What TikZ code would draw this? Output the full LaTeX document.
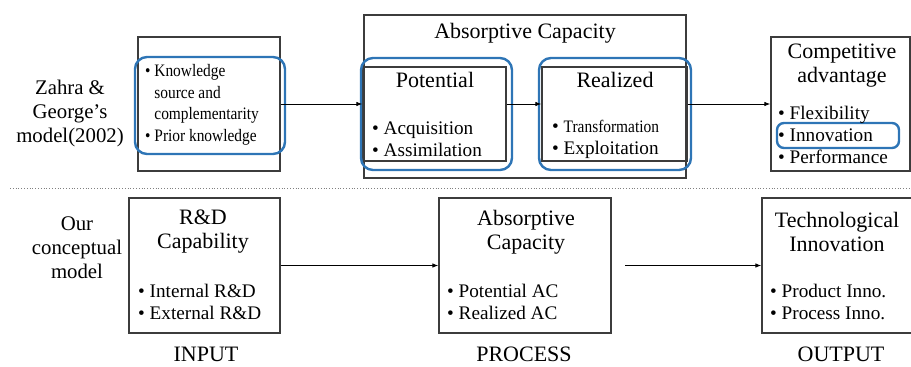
\documentclass[tikz,border=0pt]{standalone}
\usepackage{fontspec}
\setmainfont{Liberation Serif}
\usetikzlibrary{arrows.meta}
\definecolor{ablue}{RGB}{46,117,182}
\definecolor{boxgray}{RGB}{60,60,60}
\newcommand\HdFont{\fontsize{22}{24}\selectfont}
\newcommand\BlFont{\fontsize{19.2}{22}\selectfont}
\newcommand\SmFont{\fontsize{17.5}{21.5}\selectfont\addfontfeature{FakeStretch=0.88}}
\newcommand\LbFont{\fontsize{20.8}{24}\selectfont}
\newcommand\Bu{•\ }
\begin{document}
\begin{tikzpicture}[x=1pt,y=-1pt,
  blackbox/.style={draw=boxgray,line width=1.3pt,minimum width=#1,inner sep=0pt},
  bluebox/.style={draw=ablue,line width=2.4pt,rounded corners=12pt,inner sep=0pt},
  txt/.style={inner sep=0pt,align=center},
  ltxt/.style={inner sep=0pt,align=left,anchor=west},
  arr/.style={draw=black,line width=0.8pt,-{Latex[length=6pt,width=4.5pt]}}]
\useasboundingbox (0,0) rectangle (911,367);
% top row boxes
\node[blackbox=142pt,minimum height=134pt] (zbox) at (209,104) {};
\node[blackbox=322pt,minimum height=163pt] (acbox) at (525,96.5) {};
\node[blackbox=143pt,minimum height=94pt] (pot) at (434.5,114) {};
\node[blackbox=145pt,minimum height=94pt] (real) at (614.5,114) {};
\node[blackbox=139pt,minimum height=134pt] (comp) at (840.5,104) {};
\node[bluebox,minimum width=150pt,minimum height=97pt] (zround) at (210,105.5) {};
\node[bluebox,minimum width=151pt,minimum height=112pt] (potround) at (436.5,114) {};
\node[bluebox,minimum width=152pt,minimum height=112pt] (realround) at (615,114) {};
\node[bluebox,rounded corners=7pt,minimum width=122pt,minimum height=25pt] (innov) at (838,135.5) {};
% top texts
\node[txt,font=\LbFont] (zlabel) at (70,113) {Zahra \&\\George’s\\model(2002)};
\node[ltxt,font=\SmFont] (ztext) at (145,105) {\Bu Knowledge\\\hphantom{\Bu}source and\\\hphantom{\Bu}complementarity\\\Bu Prior knowledge};
\node[txt,font=\HdFont] (actitle) at (525,33) {Absorptive Capacity};
\node[txt,font=\HdFont] (pottitle) at (435,80) {Potential};
\node[ltxt,font=\BlFont] (pottext) at (372,139) {\Bu Acquisition\\\Bu Assimilation};
\node[txt,font=\HdFont] (realtitle) at (615,80) {Realized};
\node[ltxt,font=\BlFont] (realtext) at (552,139) {\Bu{\SmFont Transformation}\\\Bu Exploitation};
\node[txt,font=\HdFont] (comptitle) at (842,66) {Competitive\\advantage};
\node[ltxt,font=\BlFont] (comptext) at (778,135) {\Bu Flexibility\\\Bu Innovation\\\Bu Performance};
% top arrows
\draw[arr] (zbox.east) -- (zbox.east -| pot.west);
\draw[arr] (zbox.east -| pot.east) -- (zbox.east -| real.west);
\draw[arr] (zbox.east -| real.east) -- (comp.west);
% separator
\coordinate (sepL) at (10,188);
\coordinate (sepR) at (911,188);
\draw[gray,line width=0.8pt,dotted] (sepL) -- (sepR);
% bottom row
\node[blackbox=151pt,minimum height=135pt] (rdbox) at (204.5,265.5) {};
\node[blackbox=172pt,minimum height=135pt] (acbox2) at (525,265.5) {};
\node[blackbox=153pt,minimum height=135pt] (techbox) at (838.5,265.5) {};
\node[txt,font=\LbFont] (olabel) at (77,248) {Our\\conceptual\\model};
\node[txt,font=\HdFont] (rdtitle) at (203,232) {R\&D\\Capability};
\node[ltxt,font=\BlFont] (rdtext) at (138,302) {\Bu Internal R\&D\\\Bu External R\&D};
\node[txt,font=\HdFont] (ac2title) at (526,232) {Absorptive\\Capacity};
\node[ltxt,font=\BlFont] (ac2text) at (447,302) {\Bu Potential AC\\\Bu Realized AC};
\node[txt,font=\HdFont] (techtitle) at (837,232) {Technological\\Innovation};
\node[ltxt,font=\BlFont] (techtext) at (770,302) {\Bu Product Inno.\\\Bu Process Inno.};
\node[txt,font=\HdFont] (input) at (206,354) {INPUT};
\node[txt,font=\HdFont] (process) at (524,354) {PROCESS};
\node[txt,font=\HdFont] (output) at (841,354) {OUTPUT};
\draw[arr] (rdbox.east) -- (acbox2.west);
\coordinate (gap) at (625,265.5);
\draw[arr] (gap) -- (techbox.west);
\end{tikzpicture}
\end{document}
